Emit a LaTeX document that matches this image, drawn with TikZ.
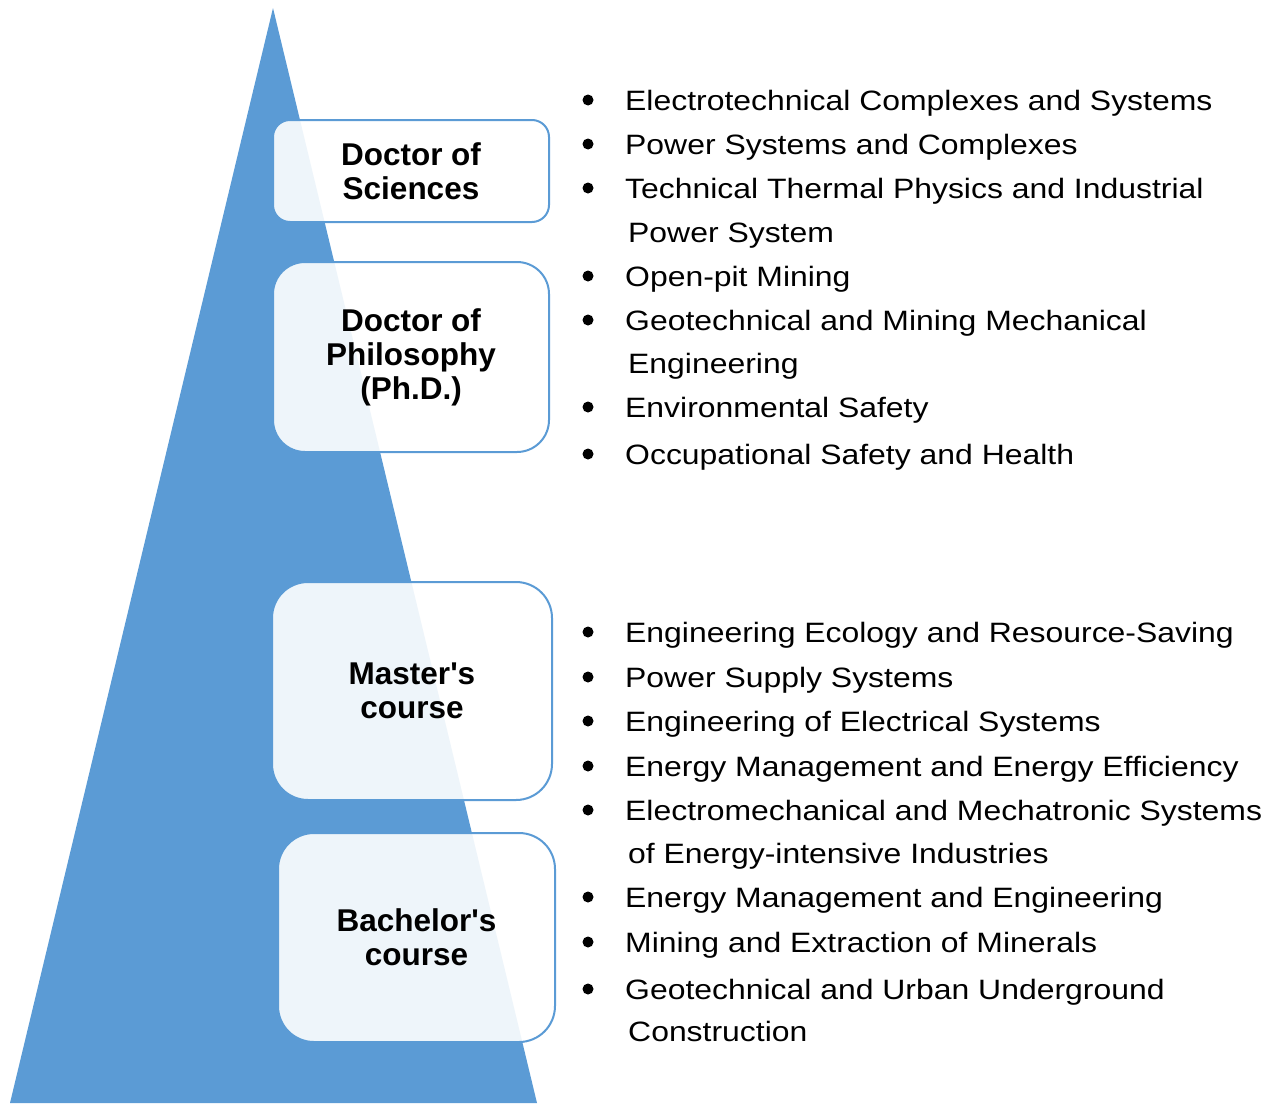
\documentclass[tikz,border=0pt]{standalone}
\usepackage{fontspec}
\setmainfont{Liberation Sans}[Ligatures=TeXOff]
\newfontfamily\listfont[FakeStretch=1.14,Ligatures=TeXOff]{Liberation Sans}
\usepackage{tikz}

\definecolor{pyramidblue}{RGB}{91,155,213}

\tikzset{
	degreebox/.style={draw=pyramidblue, line width=2pt, fill=white, fill opacity=0.9, text opacity=1,
		align=center, inner sep=0pt, font=\fontsize{31.5}{34}\selectfont\bfseries},
	listitem/.style={anchor=base west, inner sep=0pt, font=\listfont\fontsize{28}{34}\selectfont}
}

\begin{document}
\begin{tikzpicture}[x=1pt, y=-1pt]
	\useasboundingbox (0,0) rectangle (1274,1103); % Rand wie im Original
	
	% Pyramide
	\fill[pyramidblue] (273,8) -- (10,1103) -- (537,1103) -- cycle;
	
	% Abschluesse
	\node[degreebox, minimum width=276pt, minimum height=102pt, rounded corners=17pt] (sciences) at (411,171) {Doctor of\\Sciences};
	\node[degreebox, minimum width=276pt, minimum height=190pt, rounded corners=32pt] (phd) at (411,357) {Doctor of\\Philosophy\\(Ph.D.)};
	\node[degreebox, minimum width=280pt, minimum height=218pt, rounded corners=36pt] (master) at (412,691) {Master's\\course};
	\node[degreebox, minimum width=277pt, minimum height=209pt, rounded corners=36pt] (bachelor) at (416.5,937.5) {Bachelor's\\course};
	
	% obere Liste
	\fill (588,100) circle [radius=5.5];
	\node[listitem] (top1) at (625,110) {Electrotechnical Complexes and Systems};
	\fill (588,144) circle [radius=5.5];
	\node[listitem] (top2) at (625,154) {Power Systems and Complexes};
	\fill (588,188) circle [radius=5.5];
	\node[listitem] (top3) at (625,198) {Technical Thermal Physics and Industrial};
	\node[listitem] (top3b) at (628,242) {Power System};
	\fill (588,276) circle [radius=5.5];
	\node[listitem] (top4) at (625,286) {Open-pit Mining};
	\fill (588,320) circle [radius=5.5];
	\node[listitem] (top5) at (625,330) {Geotechnical and Mining Mechanical};
	\node[listitem] (top5b) at (628,373) {Engineering};
	\fill (588,407) circle [radius=5.5];
	\node[listitem] (top6) at (625,417) {Environmental Safety};
	\fill (588,454) circle [radius=5.5];
	\node[listitem] (top7) at (625,464) {Occupational Safety and Health};
	
	% untere Liste
	\fill (588,632) circle [radius=5.5];
	\node[listitem] (bot1) at (625,642) {Engineering Ecology and Resource-Saving};
	\fill (588,677) circle [radius=5.5];
	\node[listitem] (bot2) at (625,687) {Power Supply Systems};
	\fill (588,721) circle [radius=5.5];
	\node[listitem] (bot3) at (625,731) {Engineering of Electrical Systems};
	\fill (588,766) circle [radius=5.5];
	\node[listitem] (bot4) at (625,776) {Energy Management and Energy Efficiency};
	\fill (588,810) circle [radius=5.5];
	\node[listitem] (bot5) at (625,820) {Electromechanical and Mechatronic Systems};
	\node[listitem] (bot5b) at (628,863) {of Energy-intensive Industries};
	\fill (588,897) circle [radius=5.5];
	\node[listitem] (bot6) at (625,907) {Energy Management and Engineering};
	\fill (588,942) circle [radius=5.5];
	\node[listitem] (bot7) at (625,952) {Mining and Extraction of Minerals};
	\fill (588,989) circle [radius=5.5];
	\node[listitem] (bot8) at (625,999) {Geotechnical and Urban Underground};
	\node[listitem] (bot8b) at (628,1041) {Construction};
	
	%\draw[help lines, step=50] (0,0) grid (1274,1103);
\end{tikzpicture}
\end{document}
